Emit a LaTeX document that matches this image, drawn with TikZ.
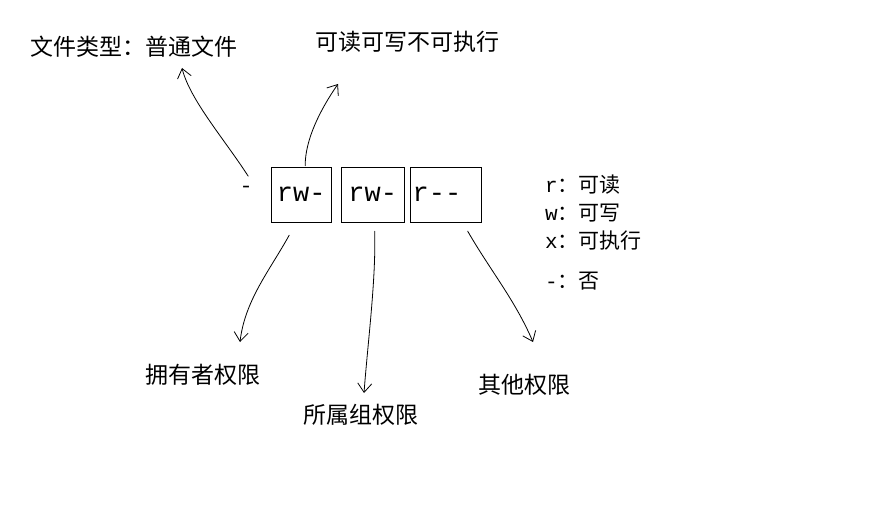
\documentclass[tikz,border=0pt]{standalone}
\usepackage{fontspec}
\setmonofont{Liberation Mono}
\newfontfamily\cjk{Noto Sans CJK SC}
\usetikzlibrary{positioning, arrows.meta}
\tikzstyle{perm}=[rectangle, draw, thin, minimum height=55pt, font=\ttfamily\fontsize{27}{27}\selectfont, anchor=west, inner sep=2pt, text depth=0pt]
\tikzstyle{label}=[font=\cjk\fontsize{23}{23}\selectfont, anchor=west, inner sep=0pt]
\tikzstyle{legend}=[font=\cjk\fontsize{21}{21}\selectfont, anchor=west, inner sep=0pt]
\tikzstyle{hand}=[thick, -{Straight Barb[length=9pt, width=14pt]}, line cap=round]

\begin{document}
\begin{tikzpicture}[x=1pt, y=-1pt]
    \useasboundingbox (0,0) rectangle (880,508);
    % Permission boxes
    \node[perm, minimum width=60pt] (owner) at (271,194.5) {rw-};
    \node[perm, minimum width=63pt] (group) at (341,194.5) {rw-};
    \node[perm, minimum width=71pt, text width=66pt, align=left] (other) at (410,194.5) {r{-}{-}};
    \node[label] (dash) at (242,190) {-};

    % Labels
    \node[label] (type) at (30,47) {文件类型：普通文件};
    \node[label] (rights) at (315,42) {可读可写不可执行};
    \node[label] (ownerlbl) at (145,375) {拥有者权限};
    \node[label] (grouplbl) at (303,415) {所属组权限};
    \node[label] (otherlbl) at (478,385) {其他权限};

    % Legend
    \node[legend] (lr) at (545,185) {{\ttfamily r}：可读};
    \node[legend] (lw) at (545,213) {{\ttfamily w}：可写};
    \node[legend] (lx) at (545,241) {{\ttfamily x}：可执行};
    \node[legend] (ld) at (545,281) {{\ttfamily -}：否};

    % Hand drawn arrows
    \coordinate (typeend) at (182,68);
    \coordinate (rightsend) at (338,84);
    \coordinate (ownerend) at (240,342);
    \coordinate (groupend) at (364,393);
    \coordinate (otherend) at (533,342);
    \draw[hand] (dash.north) ++(2,-10) .. controls (225,140) and (190,100) .. (typeend);
    \draw[hand] (owner.north) ++(4,-1) .. controls (305,140) and (320,110) .. (rightsend);
    \draw[hand] (owner.south) ++(-12,13) .. controls (270,270) and (245,300) .. (ownerend);
    \draw[hand] (group.south) ++(2,9) .. controls (376,280) and (368,340) .. (groupend);
    \draw[hand] (other.south) ++(22,9) .. controls (490,270) and (515,300) .. (otherend);
\end{tikzpicture}
\end{document}
